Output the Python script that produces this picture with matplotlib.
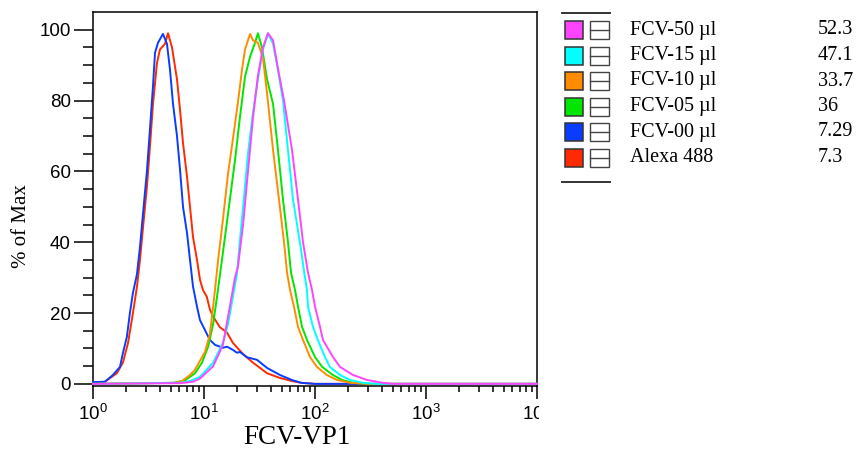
import matplotlib
matplotlib.use('Agg')
import matplotlib.pyplot as plt
from matplotlib.patches import Rectangle
from matplotlib.transforms import Bbox

# --- data: FCV-VP1 intensity vs % of max ---
alexa_x = [1.0, 1.28, 1.64, 1.86, 2.07, 2.29, 2.49, 2.65, 2.82, 3.06, 3.26, 3.47, 3.77, 4.01,
           4.45, 4.74, 5.15, 5.71, 6.08, 6.47, 7.03, 7.48, 7.96, 8.65, 9.2, 9.79, 10.6, 11.3,
           12.1, 13.9, 16.1, 18.2, 22.5, 27.6, 37.0, 48.0, 62.0, 75.0, 100, 10000]
alexa_y = [0.3, 0.6, 3.0, 6.0, 11.6, 20, 27.5, 35, 44, 55.6, 67, 79, 90.6, 94.4,
           96, 99, 95, 86, 77.4, 68, 58.5, 50, 41.5, 35, 29.4, 26.5, 24.6, 21,
           19, 16, 14.5, 11.6, 8.4, 6.0, 3.0, 1.7, 0.8, 0.3, 0, 0]

fcv00_x = [1.0, 1.28, 1.51, 1.75, 1.86, 2.02, 2.15, 2.29, 2.49, 2.65, 2.82, 3.06, 3.26, 3.47,
           3.62, 3.85, 4.27, 4.64, 4.94, 5.26, 5.71, 6.08, 6.47, 7.03, 7.48, 7.96, 8.65, 9.2,
           10.2, 11.3, 12.6, 14.8, 16.1, 18.2, 19.8, 21.1, 24.4, 30.0, 37.0, 48.4, 62.0, 75.0,
           100, 10000]
fcv00_y = [0.5, 0.6, 2.5, 4.8, 8.7, 13.3, 20, 25.7, 31, 38.7, 48, 60, 72, 84,
           93.5, 96.3, 98.8, 96, 88.7, 79, 70, 60.5, 50, 42.6, 35, 27.5, 21.8, 18,
           15.2, 12.4, 11, 10.2, 10.5, 9.6, 8.8, 9, 7.5, 6.8, 4.5, 2.5, 1.1, 0.3,
           0, 0]

fcv05_x = [1.0, 5.3, 6.74, 8.3, 9.59, 10.9, 12.1, 13.1, 14.8, 17.1, 19.0, 21.1, 23.4, 26.0,
           28.8, 30.6, 33.3, 37.0, 41.9, 46.4, 51.5, 57.1, 60.8, 66.1, 70.3, 76.4, 84.7, 100,
           116, 145, 175, 220, 300, 10000]
fcv05_y = [0, 0.3, 1.0, 3.0, 6.0, 10.5, 17, 24.6, 37, 52, 63, 75.4, 86.7, 92.4,
           96.3, 99, 95, 86, 79, 66, 52, 40, 31.4, 26.5, 21.8, 16.1, 12.4, 7.6,
           4.8, 2.5, 1.1, 0.3, 0, 0]

fcv10_x = [1.0, 5.5, 6.34, 7.48, 8.3, 9.2, 10.2, 11.3, 12.1, 12.6, 13.4, 14.8, 16.5, 18.2,
           20.2, 22.0, 23.4, 26.0, 27.6, 30.6, 34.0, 37.0, 41.9, 47.4, 52.6, 56.0, 59.6, 64.7,
           70.3, 78.0, 90.1, 104, 128, 158, 207, 300, 10000]
fcv10_y = [0, 0.3, 0.8, 2.5, 4, 6.5, 9, 14, 22, 27, 35, 46.3, 59.6, 69,
           79.4, 88.7, 94.4, 98.8, 97, 96.3, 92, 82, 66, 52, 40, 31.4, 26.5, 21.8,
           16.1, 12.4, 7.6, 4.8, 2.5, 1.1, 0.3, 0, 0]

fcv15_x = [1.0, 6.08, 7.48, 9.2, 12.1, 14.8, 16.5, 17.8, 19.8, 21.1, 22.5, 24.9, 27.6, 30.6,
           34.0, 37.7, 41.9, 45.5, 51.5, 57.1, 63.4, 68.9, 74.8, 80.0, 84.7, 86.5, 95.9, 106,
           123, 136, 168, 207, 271, 350, 10000]
fcv15_y = [0, 0.3, 0.8, 2, 6, 11.6, 17, 22.8, 31, 40.7, 50, 65, 76.5, 86,
           94.4, 99, 96, 90, 80, 66, 52, 45, 38, 31.4, 26.5, 21.8, 16.1, 12.4,
           7.6, 4.8, 2.5, 1.1, 0.3, 0, 0]

fcv50_x = [1.0, 6.08, 7.96, 9.2, 12.1, 14.8, 17.1, 19.0, 20.2, 22.5, 24.9, 27.6, 30.6, 34.0,
           37.7, 41.9, 46.4, 52.6, 62.1, 70.3, 78.0, 86.5, 94.0, 100, 111, 118, 145, 168,
           220, 294, 410, 500, 10000]
fcv50_y = [0, 0.2, 0.6, 1.5, 5, 11, 21.8, 30, 33, 45, 60, 75, 87, 95,
           99, 97, 89, 80, 66, 52, 40, 31.4, 26.5, 21.8, 16.1, 12.4, 7.6, 4.8,
           2.5, 1.1, 0.3, 0, 0]

# legend order (top to bottom)
names = ["FCV-50 \u00b5l", "FCV-15 \u00b5l", "FCV-10 \u00b5l", "FCV-05 \u00b5l", "FCV-00 \u00b5l", "Alexa 488"]
stat_values = ["52.3", "47.1", "33.7", "36", "7.29", "7.3"]
colors = ["#ff44ff", "#00ffff", "#ff8c00", "#00e600", "#0a3cff", "#ff2a00"]
series_x = [fcv50_x, fcv15_x, fcv10_x, fcv05_x, fcv00_x, alexa_x]
series_y = [fcv50_y, fcv15_y, fcv10_y, fcv05_y, fcv00_y, alexa_y]

plt.rcParams['font.family'] = ['Liberation Sans', 'DejaVu Sans']
SERIF = ['Liberation Serif', 'DejaVu Serif']

W, H = 861, 453
fig = plt.figure(figsize=(W / 100, H / 100), dpi=100)

# axes box in pixels: x 93..537, y 12..386
ax = fig.add_axes([93 / W, (H - 386) / H, (537 - 93) / W, (386 - 12) / H])

# draw bottom legend entry first so FCV-50 ends up on top
for xs, ys, c in reversed(list(zip(series_x, series_y, colors))):
    ax.plot(xs, ys, color=c, lw=1.4, zorder=3, clip_on=False)

ax.set_xscale('log')
ax.set_xlim(1, 10000)
ax.set_ylim(-0.6, 105)
ax.set_xticks([1, 10, 100, 1000, 10000])
ax.set_yticks([0, 20, 40, 60, 80, 100])
ax.set_yticks(range(0, 105, 5), minor=True)

for s in ax.spines.values():
    s.set_linewidth(1.1)
ax.tick_params(axis='y', which='major', length=14, width=1.1, labelsize=13.5, pad=2)
ax.tick_params(axis='y', which='minor', length=7, width=1.1)
ax.tick_params(axis='x', which='major', length=9, width=1.1, labelsize=13.5, pad=4)
ax.tick_params(axis='x', which='minor', length=4.5, width=1.1)

fig.text(21 / W, 1 - 226 / H, "% of Max", rotation=90, ha='center', va='center',
         fontsize=15, family=SERIF)
fig.text(297 / W, 1 - 437 / H, "FCV-VP1", ha='center', va='center',
         fontsize=19.5, family=SERIF)

# the 10^4 label is cut at the right edge of the plot
fig.canvas.draw()
clip = Bbox.from_extents(0, 0, 539, H)
for t in ax.get_xticklabels():
    t.set_clip_box(clip)
    t.set_clip_on(True)

# legend panel drawn in pixel coordinates
lax = fig.add_axes([0, 0, 1, 1], facecolor='none')
lax.set_xlim(0, W)
lax.set_ylim(H, 0)
lax.axis('off')
lax.plot([562, 610], [12.5, 12.5], color='#333333', lw=1.4)
lax.plot([562, 610], [182, 182], color='#333333', lw=1.4)
row_y = [30, 55.5, 81, 106.5, 132, 157.5]
for yc, name, val, c in zip(row_y, names, stat_values, colors):
    lax.add_patch(Rectangle((565, yc - 9), 18, 18, facecolor=c, edgecolor='#333333', lw=1.1))
    lax.add_patch(Rectangle((589.5, yc - 9), 19, 18, facecolor='white', edgecolor='#444444', lw=1.0))
    lax.plot([589.5, 608.5], [yc, yc], color='#444444', lw=1.0)
    lax.text(630, yc, name, ha='left', va='center', fontsize=14.5, family=SERIF)
    lax.text(818, yc, val, ha='left', va='center', fontsize=14.5, family=SERIF)

fig.savefig("out.png", dpi=100)
